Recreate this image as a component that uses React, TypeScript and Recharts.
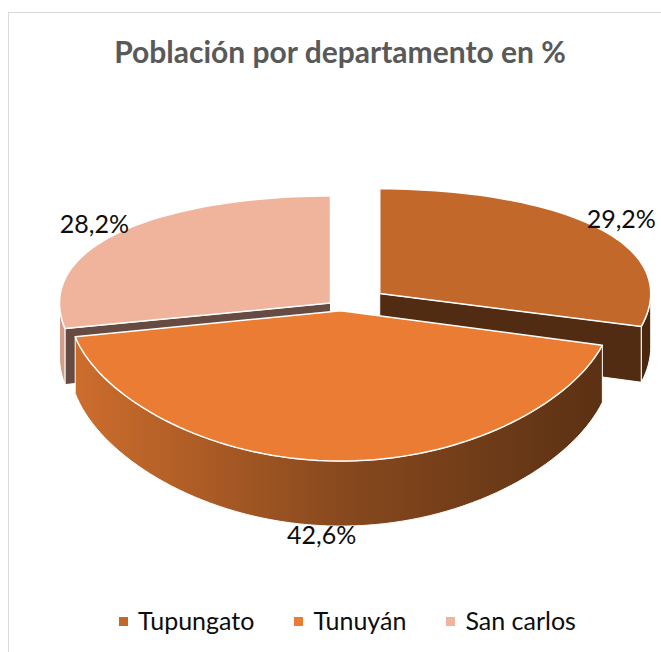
import { Legend, Pie, PieChart } from 'recharts';

const departamentos = ['Tupungato', 'Tunuyán', 'San carlos'];
const porcentajes = [29.2, 42.6, 28.2];
const colores = ['#C3682B', '#EA7D33', '#F0B39C'];

const datos = departamentos.map((name, i) => ({ name, value: porcentajes[i], fill: colores[i] }));

// separación de cada porción, en fracción del radio (como el "explosion" de Excel)
const separacion: Record<string, number> = { Tupungato: 0.18, 'Tunuyán': 0.03, 'San carlos': 0.05 };

const W = 661;
const H = 652;
const CX = 341;
const CY = 307;
const R = 100;
// proyección 3D: radio horizontal, radio vertical, perspectiva y espesor
const RX = 271;
const RY = 125.2;
const PERSP = 0.158;
const DEPTH = 54.5;
const RAD = Math.PI / 180;

function shade(hex: string, f: number) {
  const n = parseInt(hex.slice(1), 16);
  const c = [(n >> 16) & 255, (n >> 8) & 255, n & 255].map((v) => Math.round(v * f));
  return `rgb(${c.join(',')})`;
}

function nombreDe(p: any): string {
  return p.payload?.name ?? p.name;
}

function projector(p: any) {
  const e = separacion[nombreDe(p)] ?? 0;
  const mid = (p.startAngle + p.endAngle) / 2;
  const ou = e * Math.cos(mid * RAD);
  const ov = -e * Math.sin(mid * RAD);
  const scale = p.outerRadius / R;
  return (angle: number, rho: number, down = 0): [number, number] => {
    const u = ou + rho * scale * Math.cos(angle * RAD);
    const v = ov - rho * scale * Math.sin(angle * RAD);
    const k = 1 / (1 - PERSP * v);
    return [p.cx + RX * u, p.cy + (RY * v + DEPTH * down) * k];
  };
}

type Pt = [number, number];
type Proj = (a: number, rho: number, down?: number) => Pt;

function arc(pt: Proj, a1: number, a2: number, down: number): Pt[] {
  const n = Math.max(2, Math.ceil(Math.abs(a2 - a1) / 2));
  return Array.from({ length: n + 1 }, (_, i) => pt(a1 + ((a2 - a1) * i) / n, 1, down));
}

function toPath(pts: Pt[]) {
  return 'M' + pts.map((q) => `${q[0].toFixed(2)},${q[1].toFixed(2)}`).join('L') + 'Z';
}

function Paredes(p: any) {
  const pt = projector(p);
  const idx = departamentos.indexOf(nombreDe(p));
  const base = colores[idx];
  const hiA = Math.max(p.startAngle, p.endAngle);
  const loA = Math.min(p.startAngle, p.endAngle);
  const gid = `pared-${idx}`;
  const partes = [];
  const lo = Math.max(loA, -180);
  const hi = Math.min(hiA, 0);
  const cara = (a: number, key: string) => (
    <path
      key={key}
      d={toPath([pt(a, 0, 0), pt(a, 1, 0), pt(a, 1, 1), pt(a, 0, 1)])}
      fill={shade(base, 0.42)}
      stroke="#ffffff"
      strokeWidth={1}
      strokeLinejoin="round"
    />
  );
  if (Math.cos(hiA * RAD) < -0.01) partes.push(cara(hiA, 'hi'));
  if (Math.cos(loA * RAD) > 0.01) partes.push(cara(loA, 'lo'));
  if (hi > lo) {
    const top = arc(pt, hi, lo, 0);
    const bot = arc(pt, lo, hi, 1);
    partes.push(
      <path
        key="lado"
        d={toPath([...top, ...bot])}
        fill={`url(#${gid})`}
        stroke="#ffffff"
        strokeWidth={1}
        strokeLinejoin="round"
      />,
    );
  }
  return (
    <g>
      <defs>
        <linearGradient id={gid} gradientUnits="userSpaceOnUse" x1={p.cx - RX} y1={0} x2={p.cx + RX} y2={0}>
          <stop offset="0" stopColor={shade(base, 0.88)} />
          <stop offset="0.5" stopColor={shade(base, 0.58)} />
          <stop offset="1" stopColor={shade(base, 0.38)} />
        </linearGradient>
      </defs>
      {partes}
    </g>
  );
}

function esFrente(p: any) {
  const mid = (p.startAngle + p.endAngle) / 2;
  return Math.sin(mid * RAD) < 0;
}

const paredesFondo = (p: any) => (esFrente(p) ? <g /> : <Paredes {...p} />);
const paredesFrente = (p: any) => (esFrente(p) ? <Paredes {...p} /> : <g />);

const tapa = (p: any) => {
  const pt = projector(p);
  const hiA = Math.max(p.startAngle, p.endAngle);
  const loA = Math.min(p.startAngle, p.endAngle);
  return (
    <path
      d={toPath([pt(hiA, 0, 0), ...arc(pt, hiA, loA, 0)])}
      fill={p.fill}
      stroke="#ffffff"
      strokeWidth={1.5}
      strokeLinejoin="round"
    />
  );
};

const etiqueta = (p: any) => {
  const pt = projector(p);
  const mid = (p.startAngle + p.endAngle) / 2;
  const frente = Math.sin(mid * RAD) < 0;
  const [ax, ay] = pt(mid, 1, frente ? 1 : 0);
  let dx = Math.cos(mid * RAD) * RX;
  let dy = -Math.sin(mid * RAD) * 110;
  const len = Math.hypot(dx, dy);
  dx /= len;
  dy /= len;
  const t = Math.abs(dx) * 30 + Math.abs(dy) * 10 - 4;
  const texto = `${Number(p.value).toFixed(1).replace('.', ',')}%`;
  return (
    <text
      x={ax + dx * t - (frente ? 10 : 0)}
      y={ay + dy * t}
      textAnchor="middle"
      dominantBaseline="central"
      fontFamily="Lato"
      fontSize={25}
      fill="#0d0d0d"
    >
      {texto}
    </text>
  );
};

function Leyenda() {
  return (
    <div
      style={{
        display: 'flex',
        justifyContent: 'center',
        alignItems: 'center',
        fontFamily: 'Lato',
        fontSize: 25,
        lineHeight: '30px',
        color: '#0d0d0d',
      }}
    >
      {departamentos.map((d, i) => (
        <span
          key={d}
          style={{ display: 'flex', alignItems: 'center', marginRight: i < departamentos.length - 1 ? 40 : 0 }}
        >
          <span style={{ width: 9, height: 9, background: colores[i], marginRight: 10, marginTop: 3 }} />
          {d}
        </span>
      ))}
    </div>
  );
}

const pieComun = {
  data: datos,
  dataKey: 'value',
  nameKey: 'name',
  cx: CX,
  cy: CY,
  outerRadius: R,
  startAngle: 90,
  endAngle: -270,
  stroke: 'none',
  isAnimationActive: false,
  labelLine: false,
};

export default function App() {
  return (
    <div
      style={{
        position: 'fixed',
        left: 0,
        top: 0,
        width: W,
        height: H,
        overflow: 'hidden',
        background: '#ffffff',
      }}
    >
      <div
        style={{
          position: 'absolute',
          left: 8,
          top: 12,
          width: 720,
          height: 720,
          border: '1.5px solid #d9d9d9',
        }}
      />
      <div
        style={{
          position: 'absolute',
          left: 0,
          top: 34,
          width: 680,
          textAlign: 'center',
          fontFamily: 'Lato',
          fontWeight: 700,
          fontSize: 30,
          lineHeight: '34px',
          color: '#595959',
        }}
      >
        Población por departamento en %
      </div>
      <div style={{ position: 'absolute', left: 0, top: 0 }}>
        <PieChart width={W} height={H} margin={{ top: 0, right: 0, bottom: 0, left: 0 }}>
          <Pie {...pieComun} shape={paredesFondo} activeShape={paredesFondo} inactiveShape={paredesFondo} label={false} />
          <Pie {...pieComun} shape={paredesFrente} activeShape={paredesFrente} inactiveShape={paredesFrente} label={false} />
          <Pie {...pieComun} shape={tapa} activeShape={tapa} inactiveShape={tapa} label={etiqueta} />
          <Legend
            verticalAlign="bottom"
            content={() => <Leyenda />}
            wrapperStyle={{ top: 605, bottom: 'auto', left: 0, width: 695 }}
          />
        </PieChart>
      </div>
    </div>
  );
}
